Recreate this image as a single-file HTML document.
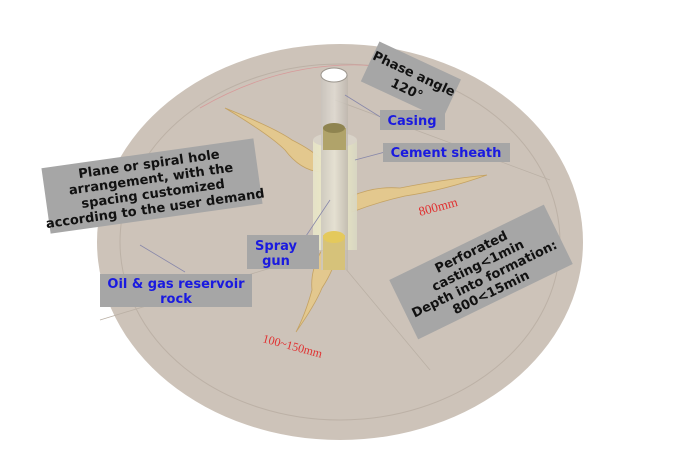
<!DOCTYPE html>
<html><head><meta charset="utf-8"><style>
html,body{margin:0;padding:0;background:#fff;}
svg{display:block;}
.b{font-family:"DejaVu Sans","Liberation Sans",sans-serif;font-weight:bold;}
.r{font-family:"Liberation Serif",serif;font-weight:normal;}
</style></head><body>
<svg width="675" height="459" viewBox="0 0 675 459" xmlns="http://www.w3.org/2000/svg">
<defs>
<linearGradient id="tube" x1="0" x2="1"><stop offset="0" stop-color="#c9c4bd"/><stop offset="0.5" stop-color="#e2ddd5"/><stop offset="1" stop-color="#bdb6ad"/></linearGradient>
<linearGradient id="sh" x1="0" x2="1"><stop offset="0" stop-color="#e6e3c8"/><stop offset="0.5" stop-color="#f1efc4"/><stop offset="1" stop-color="#d8d6c2"/></linearGradient>
</defs>
<ellipse cx="340" cy="242" rx="243" ry="198" fill="#cdc3b9"/>
<ellipse cx="340" cy="242" rx="220" ry="178" fill="none" stroke="#bcb1a6" stroke-width="1"/>
<path d="M200 108 Q300 50 410 70" fill="none" stroke="#d79a9a" stroke-width="0.8"/>
<path d="M330 250 L100 320 M330 250 L430 370 M335 100 L550 180" fill="none" stroke="#bab0a5" stroke-width="0.8"/>
<!-- spindle spikes -->
<g fill="#e3c88e" stroke="#c4a263" stroke-width="0.8">
<path d="M320 172 Q300 170 285 150 Q270 135 225 108 Q275 128 292 140 Q312 150 322 160 Z"/>
<path d="M352 196 Q375 186 400 188 Q440 180 487 175 Q445 190 405 196 Q378 202 352 212 Z"/>
<path d="M322 250 Q310 270 312 290 Q305 315 296 332 Q315 305 322 288 Q335 268 337 252 Z"/>
</g>
<rect x="313" y="140" width="44" height="110" fill="url(#sh)" opacity="0.95"/>
<ellipse cx="335" cy="140" rx="22" ry="7" fill="#d9d3c8"/>
<rect x="321" y="75" width="27" height="195" fill="url(#tube)" opacity="0.8"/>
<ellipse cx="334" cy="75" rx="13" ry="7" fill="#fff" stroke="#9a948c"/>
<rect x="323" y="128" width="23" height="22" fill="#b0a36a"/>
<ellipse cx="334" cy="128" rx="11" ry="5" fill="#8f8450"/>
<rect x="323" y="235" width="22" height="35" fill="#d6c27a"/>
<ellipse cx="334" cy="237" rx="11" ry="6" fill="#e4c95c"/>
<path d="M345 95 L382 118 M355 160 L385 152 M330 200 L300 245 M140 245 L185 272" stroke="#8888aa" stroke-width="0.8" fill="none"/>
<g class="b">
<g transform="rotate(25 410 80)"><rect x="366" y="58" width="90" height="44" fill="#a6a6a6"/>
<text x="411" y="77" font-size="13" text-anchor="middle" fill="#111">Phase angle</text>
<text x="411" y="94" font-size="13" text-anchor="middle" fill="#111">120°</text></g>
<rect x="380" y="110" width="65" height="20" fill="#a6a6a6"/>
<text x="412" y="125" font-size="13" text-anchor="middle" fill="#1a1ae0">Casing</text>
<rect x="383" y="143" width="127" height="19" fill="#a6a6a6"/>
<text x="446" y="157" font-size="13" text-anchor="middle" fill="#1a1ae0">Cement sheath</text>
<g transform="rotate(-8 152 186)"><rect x="45" y="153" width="214" height="66" fill="#a6a6a6"/>
<g font-size="13" text-anchor="middle" fill="#111">
<text x="152" y="168">Plane or spiral hole</text>
<text x="152" y="183">arrangement, with the</text>
<text x="152" y="198">spacing customized</text>
<text x="152" y="213">according to the user demand</text></g></g>
<rect x="247" y="235" width="72" height="34" fill="#a6a6a6"/>
<text x="276" y="250" font-size="13" text-anchor="middle" fill="#1a1ae0">Spray</text>
<text x="276" y="265" font-size="13" text-anchor="middle" fill="#1a1ae0">gun</text>
<rect x="100" y="274" width="152" height="33" fill="#a6a6a6"/>
<text x="176" y="288" font-size="13" text-anchor="middle" fill="#1a1ae0">Oil &amp; gas reservoir</text>
<text x="176" y="303" font-size="13" text-anchor="middle" fill="#1a1ae0">rock</text>
<g transform="rotate(-26 481 272)"><rect x="395" y="239" width="172" height="66" fill="#a6a6a6"/>
<g font-size="13" text-anchor="middle" fill="#111">
<text x="481" y="254">Perforated</text>
<text x="481" y="269">casting&lt;1min</text>
<text x="481" y="284">Depth into formation:</text>
<text x="481" y="299">800&lt;15min</text></g></g>
</g>
<text class="r" x="420" y="216" font-size="13" fill="#e03030" transform="rotate(-15 420 216)">800mm</text>
<text class="r" x="262" y="342" font-size="12" fill="#e03030" transform="rotate(15 262 342)">100~150mm</text>
</svg>
</body></html>
